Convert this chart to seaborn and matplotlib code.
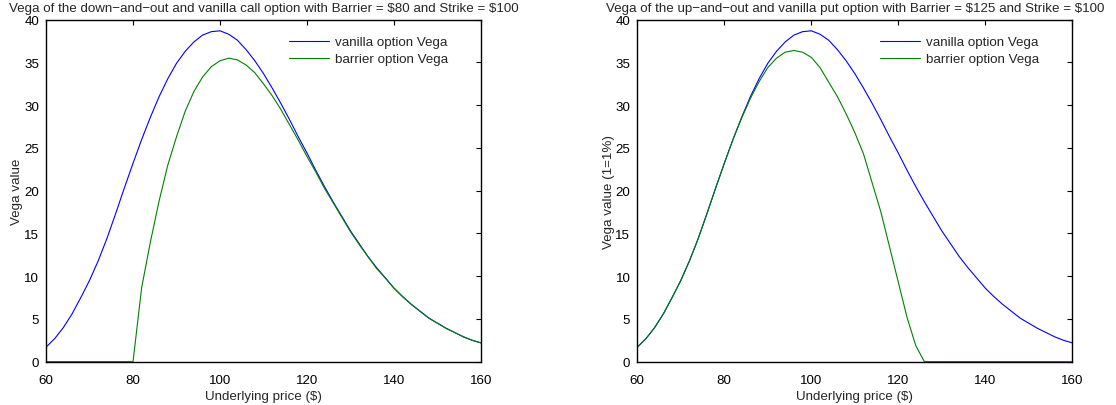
import numpy as np
import pandas as pd
import matplotlib
matplotlib.use("Agg")
import matplotlib.pyplot as plt
import seaborn as sns

# Underlying price grid ($)
price = list(range(60, 162, 2))

# Vanilla option Vega (same for call and put)
vanilla_vega = [
    1.7, 2.7, 4.0, 5.6, 7.5, 9.5, 11.8, 14.4, 17.3, 20.3,
    23.2, 26.0, 28.6, 31.0, 33.1, 34.9, 36.3, 37.4, 38.2, 38.6,
    38.7, 38.3, 37.6, 36.5, 35.2, 33.7, 32.0, 30.2, 28.3, 26.3,
    24.4, 22.4, 20.5, 18.7, 17.0, 15.3, 13.8, 12.3, 11.0, 9.8,
    8.6, 7.6, 6.7, 5.9, 5.1, 4.5, 3.9, 3.4, 2.9, 2.5, 2.2,
]

# Down-and-out call Vega, barrier $80, strike $100
doc_vega = [
    0.0, 0.0, 0.0, 0.0, 0.0, 0.0, 0.0, 0.0, 0.0, 0.0,
    0.0, 8.7, 14.0, 18.8, 23.0, 26.3, 29.3, 31.6, 33.3, 34.5,
    35.2, 35.5, 35.3, 34.7, 33.8, 32.5, 31.1, 29.5, 27.7, 25.9,
    24.0, 22.2, 20.3, 18.6, 16.9, 15.2, 13.7, 12.3, 10.9, 9.8,
    8.6, 7.6, 6.7, 5.9, 5.1, 4.5, 3.9, 3.4, 2.9, 2.5, 2.2,
]

# Up-and-out put Vega, barrier $125, strike $100
uop_vega = [
    1.7, 2.7, 4.0, 5.6, 7.5, 9.5, 11.8, 14.4, 17.3, 20.3,
    23.2, 26.0, 28.5, 30.8, 32.75, 34.4, 35.5, 36.2, 36.4, 36.2,
    35.6, 34.4, 32.7, 31.0, 29.0, 26.8, 24.3, 20.9, 17.5, 13.4,
    9.3, 5.2, 1.9, 0.0, 0.0, 0.0, 0.0, 0.0, 0.0, 0.0,
    0.0, 0.0, 0.0, 0.0, 0.0, 0.0, 0.0, 0.0, 0.0, 0.0, 0.0,
]

titles = [
    "Vega of the down\u2212and\u2212out and vanilla call option with Barrier = \\$80 and Strike = \\$100",
    "Vega of the up\u2212and\u2212out and vanilla put option with Barrier = \\$125 and Strike = \\$100",
]
ylabels = ["Vega value", "Vega value (1=1%)"]
xlabel = "Underlying price (\\$)"
legend_labels = ["vanilla option Vega", "barrier option Vega"]
xticks = [60, 80, 100, 120, 140, 160]
yticks = [0, 5, 10, 15, 20, 25, 30, 35, 40]

sns.set_style("white")
plt.rcParams["font.family"] = ["Liberation Sans", "DejaVu Sans"]
plt.rcParams["font.size"] = 9.6

W, H = 1116, 406
fig = plt.figure(figsize=(W / 100, H / 100), dpi=100)
axes = [
    fig.add_axes([46 / W, (H - 362.7) / H, 435 / W, 342 / H]),
    fig.add_axes([637.3 / W, (H - 362.7) / H, 435 / W, 342 / H]),
]

FS = 9.6
barrier_series = [doc_vega, uop_vega]
for ax, barrier, title, ylab in zip(axes, barrier_series, titles, ylabels):
    df = pd.DataFrame({"price": price, "vanilla": vanilla_vega, "barrier": barrier})
    sns.lineplot(data=df, x="price", y="vanilla", ax=ax, color=(0, 0, 1),
                 linewidth=0.8, label=legend_labels[0])
    sns.lineplot(data=df, x="price", y="barrier", ax=ax, color=(0, 0.5, 0),
                 linewidth=0.8, label=legend_labels[1])
    ax.set_xlim(60, 160)
    ax.set_ylim(0, 40)
    ax.set_xticks(xticks)
    ax.set_yticks(yticks)
    ax.tick_params(direction="in", length=3.5, width=0.8, top=True, right=True,
                   labelsize=FS, colors="black")
    ax.tick_params(axis="x", pad=9)
    ax.tick_params(axis="y", pad=5)
    for sp in ax.spines.values():
        sp.set_visible(True)
        sp.set_color("black")
        sp.set_linewidth(1.0)
    ax.set_title(title, fontsize=FS, pad=6)
    ax.set_xlabel(xlabel, fontsize=FS, labelpad=3)
    ax.set_ylabel(ylab, fontsize=FS, labelpad=0.5)
    ax.legend(loc="upper right", frameon=False, fontsize=FS, handlelength=3.0,
              handletextpad=0.45, labelspacing=0.35, borderaxespad=0.0,
              bbox_to_anchor=(1 - 28 / 435, 1 - 11 / 342))

fig.savefig("out.png", dpi=100)
